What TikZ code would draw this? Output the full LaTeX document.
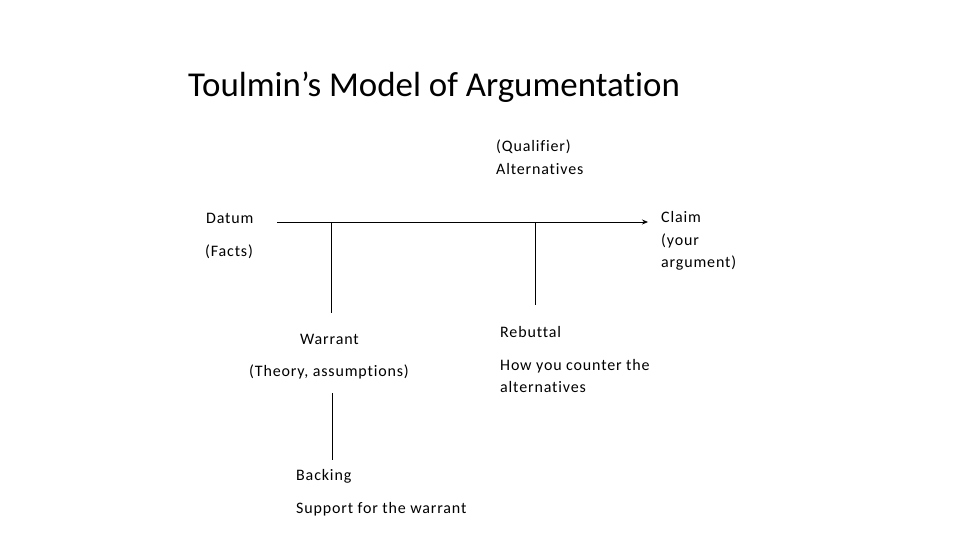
\documentclass[tikz,border=0pt]{standalone}
\usepackage{fontspec}
\setmainfont{Carlito}[Ligatures={NoCommon}]
\newfontfamily\lblfont[LetterSpace=5.3,Ligatures={NoCommon}]{Carlito}
\usetikzlibrary{arrows.meta}
\begin{document}
\begin{tikzpicture}[x=1pt,y=-1pt,
  lbl/.style={anchor=west,inner sep=0pt,font=\lblfont\fontsize{16}{22.5}\selectfont,align=left},
  conn/.style={draw=black,line width=0.8pt}]
\useasboundingbox (0,0) rectangle (960,540);
\node[anchor=base west,inner sep=0pt,font=\fontsize{34.9}{40}\selectfont] (title) at (188,97) {Toulmin’s Model of Argumentation};
\node[lbl] (qual) at (496,157) {(Qualifier)\\Alternatives};
\node[lbl] (datum) at (206,218) {Datum};
\node[lbl] (facts) at (205,252) {(Facts)};
\node[lbl] (claim) at (661,241) {Claim\\(your\\argument)};
\node[lbl] (warrant) at (300,339) {Warrant};
\node[lbl] (theory) at (249,372) {(Theory, assumptions)};
\node[lbl] (rebuttal) at (500,332) {Rebuttal};
\node[lbl] (counter) at (500,376) {How you counter the\\alternatives};
\node[lbl] (backing) at (296,476) {Backing};
\node[lbl] (support) at (296,509) {Support for the warrant};
\coordinate (start) at (277,222);
\coordinate (tip) at (648,222);
\coordinate (j1) at (331,222);
\coordinate (j2) at (535,222);
\coordinate (w1) at (331,313);
\coordinate (r1) at (535,305);
\coordinate (b0) at (332,393);
\coordinate (b1) at (332,460);
\draw[conn,-{Stealth[length=6pt,width=5pt]}] (start) -- (tip);
\draw[conn] (j1) -- (w1);
\draw[conn] (j2) -- (r1);
\draw[conn] (b0) -- (b1);
\end{tikzpicture}
\end{document}
